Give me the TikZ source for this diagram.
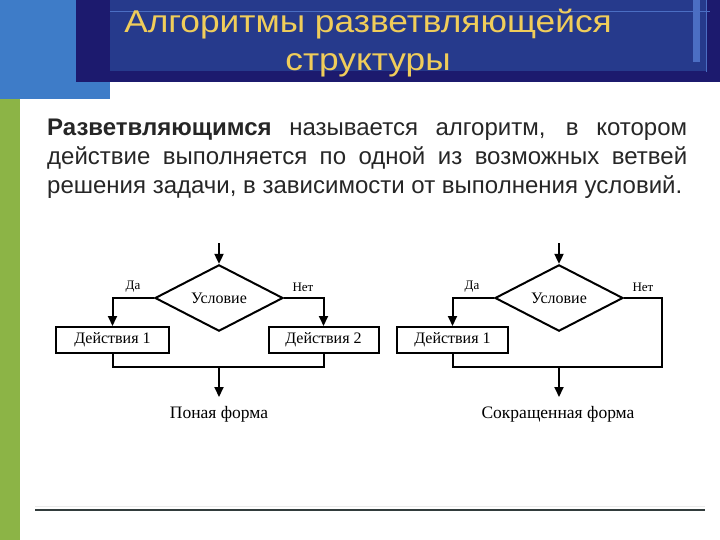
\documentclass[tikz,border=0pt]{standalone}
\usepackage{fontspec}
\setmainfont{Liberation Sans}
\newfontfamily\timesfont{Liberation Serif}
\newfontfamily\titlefont[FakeStretch=1.12]{Liberation Sans}
\usetikzlibrary{shapes.geometric, arrows.meta, positioning, calc}
\definecolor{sidblue}{RGB}{62, 124, 200}
\definecolor{sidgreen}{RGB}{140, 180, 70}
\definecolor{headnavy}{RGB}{28, 26, 110}
\definecolor{headpanel}{RGB}{38, 58, 140}
\definecolor{headline}{RGB}{75, 110, 195}
\definecolor{titleyellow}{RGB}{240, 205, 90}
\definecolor{rulegray}{RGB}{50, 60, 60}

\tikzset{
    flow/.style={line width=2pt, black},
    arr/.style={flow, -{Triangle[length=10pt, width=9pt]}},
    condbox/.style={diamond, draw, flow, minimum width=128pt, minimum height=51pt, inner sep=0pt, font=\timesfont\fontsize{16}{18}\selectfont},
    actbox/.style={rectangle, draw, flow, minimum height=26pt, inner sep=0pt, font=\timesfont\fontsize{16}{18}\selectfont},
    branchlbl/.style={font=\timesfont\fontsize{13}{15}\selectfont, inner sep=0pt},
    formlbl/.style={font=\timesfont\fontsize{17.5}{20}\selectfont, inner sep=0pt}
}

\begin{document}
\begin{tikzpicture}[x=1pt, y=-1pt]
    \useasboundingbox (0,0) rectangle (720,540);

    % slide header
    \fill[sidblue] (0,0) rectangle (110,99);
    \fill[sidgreen] (0,99) rectangle (20,540);
    \fill[headnavy] (76,0) rectangle (720,82);
    \fill[headpanel] (110,0) rectangle (707,71);
    \draw[headline, line width=0.8pt] (110,11) -- (710,11);
    \fill[headline] (693,0) rectangle (700,62);
    \draw[headline, line width=0.6pt] (706,0) -- (706,72);
    \node[titleyellow, anchor=base, font=\titlefont\fontsize{31.5}{35}\selectfont, inner sep=0pt] (title1) at (368,33) {Алгоритмы разветвляющейся};
    \node[titleyellow, anchor=base, font=\titlefont\fontsize{31.5}{35}\selectfont, inner sep=0pt] (title2) at (368,71) {структуры};

    \node[anchor=north west, inner sep=0pt, text width=640pt, align=justify, font=\fontsize{24}{29}\selectfont, text=black!85] (body) at (47,119) {
        \textbf{Разветвляющимся} называется алгоритм, в котором\linebreak
        действие выполняется по одной из возможных ветвей\linebreak
        решения задачи, в зависимости от выполнения условий.
    };

    % full form
    \node[condbox] (cond1) at (219,298) {Условие};
    \node[actbox, minimum width=113pt] (act1) at (112.5,340) {Действия 1};
    \node[actbox, minimum width=110pt] (act2) at (323.5,340) {Действия 2};
    \coordinate (top1) at (219,243);
    \coordinate (m1) at (219,367);
    \coordinate (end1) at (219,397);
    \draw[arr] (top1) -- (cond1.north);
    \draw[arr] (cond1.west) -| (act1.north);
    \draw[arr] (cond1.east) -| (act2.north);
    \draw[flow] (act1.south) |- (m1) -| (act2.south);
    \draw[arr] (m1) -- (end1);
    \node[branchlbl] (yes1) at (133,287) {Да};
    \node[branchlbl] (no1) at (303,287) {Нет};
    \node[formlbl] (full) at (219,414) {Поная форма};

    % short form
    \node[condbox] (cond2) at (559,298) {Условие};
    \node[actbox, minimum width=111pt] (act3) at (452.5,340) {Действия 1};
    \coordinate (top2) at (559,243);
    \coordinate (r2) at (662,367);
    \coordinate (end2) at (559,397);
    \draw[arr] (top2) -- (cond2.north);
    \draw[arr] (cond2.west) -| (act3.north);
    \draw[flow] (cond2.east) -| (r2) -- (act3.south |- r2) -- (act3.south);
    \draw[arr] (cond2.south |- r2) -- (end2);
    \node[branchlbl] (yes2) at (472,287) {Да};
    \node[branchlbl] (no2) at (643,287) {Нет};
    \node[formlbl] (short) at (558,414) {Сокращенная форма};

    % bottom rule
    \draw[black!8, line width=1pt] (35,506) -- (705,506);
    \draw[rulegray, line width=1.4pt] (35,510) -- (705,510);
\end{tikzpicture}
\end{document}
